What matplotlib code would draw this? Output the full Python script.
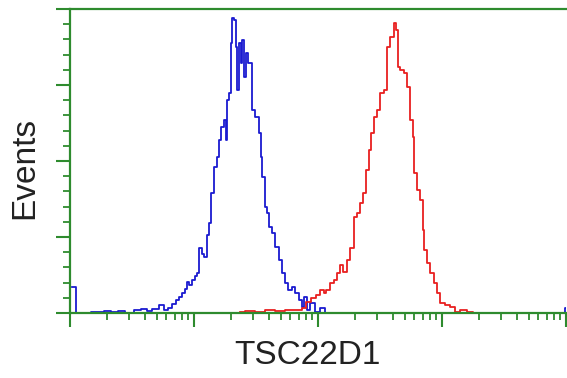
import matplotlib
matplotlib.use("Agg")
import matplotlib.pyplot as plt
from matplotlib.ticker import LogLocator, NullFormatter, MultipleLocator

# ---- data ----
blue_x = [1.04, 1.2, 1.75, 2.0, 2.3, 2.6, 3.0, 3.6, 3.9, 4.4, 4.85, 5.52, 5.94, 6.40, 6.90,
          7.29, 7.71, 8.15, 8.62, 8.95, 9.29, 9.82, 10.4, 10.8, 11.2, 11.8, 12.3, 13.0,
          13.5, 14.0, 14.8, 15.6, 16.2, 16.8, 17.8, 18.1, 18.8, 19.5, 20.2, 20.6, 21.4,
          22.2, 22.6, 23.5, 24.4, 24.8, 25.8, 26.7, 28.3, 29.9, 32.2, 34.1, 35.3, 36.0,
          38.8, 39.5, 41.0, 43.4, 46.7, 49.4, 52.2, 56.2, 59.4, 62.9, 67.7, 71.6, 75.7,
          78.6, 83.1, 89.5, 98.2, 108, 118, 125, 9750, 9900, 10000]
blue_y = [8.6, 0, 0.3, 0.7, 0.3, 0.7, 0, 1.0, 1.3, 0.7, 1.3, 2.6, 1.0, 1.6, 3.0,
          4.3, 5.3, 6.6, 7.9, 10.2, 9.2, 10.9, 12.2, 13.2, 21.4, 19.4, 18.4, 25.7,
          29.6, 39.5, 48.0, 51.3, 56.9, 61.2, 63.5, 56.9, 70.1, 72.4, 88.8, 97.1, 96.4,
          87.5, 73.4, 88.8, 82.3, 89.8, 77.6, 85.5, 82.3, 66.8, 64.5, 59.2, 51.3, 44.7,
          34.9, 32.9, 28.3, 26.3, 21.7, 17.4, 13.2, 9.9, 7.6, 8.6, 6.6, 4.3, 2.0,
          5.3, 1.0, 3.3, 0.3, 1.6, 0, 0, 0, 1.5, 1.5]

red_x = [23.5, 28.3, 34.1, 41.0, 49.4, 59.4, 71.6, 75.7, 83.1, 91.2, 100, 108, 114, 120,
         130, 137, 145, 156, 165, 175, 188, 199, 210, 226, 239, 248, 263, 273, 288, 305,
         328, 347, 367, 395, 418, 434, 442, 476, 503, 532, 573, 584, 606, 640, 690, 716,
         729, 771, 830, 879, 929, 1000, 1097, 1205, 1321, 1476, 1682, 1846]
red_y = [0.3, 0.7, 0.3, 1.0, 0.7, 1.0, 1.0, 1.6, 3.6, 4.9, 5.9, 7.6, 6.6, 7.6,
         9.9, 10.7, 13.2, 15.8, 13.5, 17.4, 21.4, 31.6, 32.9, 36.2, 39.5, 47.0, 53.6, 59.2,
         64.5, 66.8, 72.4, 73.4, 87.5, 90.8, 95.4, 93.1, 80.9, 79.9, 79.0, 74.4, 63.5, 57.9,
         46.1, 40.5, 37.2, 27.3, 20.7, 16.5, 13.2, 9.9, 6.6, 3.3, 2.6, 2.0, 0.3, 1.0, 0.3, 0]

x_label = "TSC22D1"
y_label = "Events"

# ---- figure ----
W, H = 567, 378
fig = plt.figure(figsize=(W / 100, H / 100), dpi=100)
ax = fig.add_axes([70 / W, 1 - 313 / H, (566 - 70) / W, (313 - 9) / H])

green = "#2e8b2e"
ax.step(blue_x, blue_y, where="mid", color="#1a1ad0", lw=1.3)
ax.step(red_x, red_y, where="mid", color="#e82020", lw=1.3)

ax.set_xscale("log")
ax.set_xlim(1, 1e4)
ax.set_ylim(0, 100)

ax.xaxis.set_major_locator(LogLocator(base=10, numticks=10))
ax.xaxis.set_minor_locator(LogLocator(base=10, subs=range(2, 10), numticks=20))
ax.xaxis.set_major_formatter(NullFormatter())
ax.xaxis.set_minor_formatter(NullFormatter())
ax.yaxis.set_major_locator(MultipleLocator(25))
ax.yaxis.set_minor_locator(MultipleLocator(5))
ax.yaxis.set_major_formatter(NullFormatter())

ax.tick_params(which="major", direction="out", length=10, width=1.5, color=green)
ax.tick_params(which="minor", direction="out", length=5, width=1.3, color=green)

for side in ["left", "bottom", "top"]:
    ax.spines[side].set_color(green)
    ax.spines[side].set_linewidth(1.6)
ax.spines["right"].set_visible(False)

fig.text(307 / W, 1 - 355 / H, x_label, ha="center", va="center",
         fontsize=24, family="Liberation Sans", color="#222222")
fig.text(25 / W, 1 - 168 / H, y_label, ha="center", va="center", rotation=90,
         fontsize=24, family="Liberation Sans", color="#222222")

fig.savefig("out.png", dpi=100)
